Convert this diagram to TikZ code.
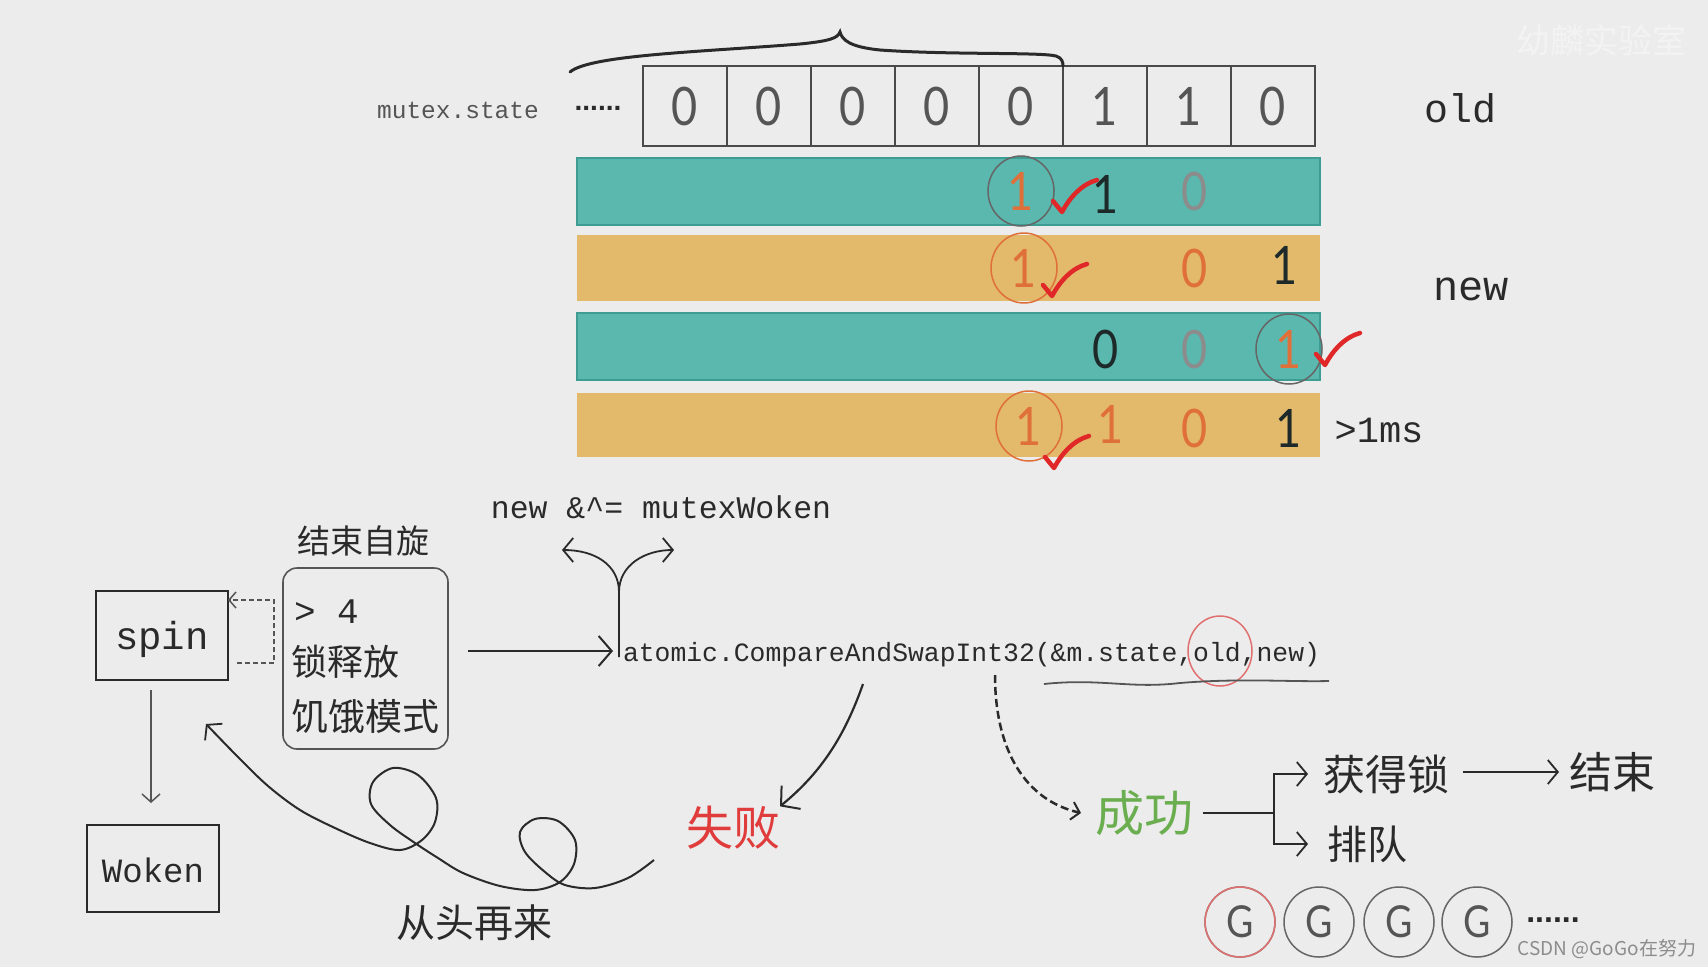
\documentclass[tikz,border=0pt]{standalone}
\usepackage{fontspec}
\setmainfont{Liberation Sans}
\setmonofont{Liberation Mono}
\newfontfamily\cjk{Noto Sans CJK SC}
\newfontfamily\dig[FakeStretch=0.85]{Lato}
\usetikzlibrary{arrows.meta,shapes.geometric}
\newcommand\fz[1]{\fontsize{#1}{#1}\selectfont}
\definecolor{bg}{HTML}{ECECEC}
\definecolor{wm}{HTML}{F3F3F3}
\definecolor{ink}{HTML}{2A2A2A}
\definecolor{cellline}{HTML}{4A4A4A}
\definecolor{tealbar}{HTML}{5BB8AF}
\definecolor{tealedge}{HTML}{3E9D93}
\definecolor{goldbar}{HTML}{E3B96B}
\definecolor{orng}{HTML}{E0703A}
\definecolor{graydig}{HTML}{8C8C8C}
\definecolor{darkdig}{HTML}{1E2A2A}
\definecolor{ringgray}{HTML}{666666}
\definecolor{chkred}{HTML}{E02828}
\definecolor{okgreen}{HTML}{6AAE4F}
\definecolor{failred}{HTML}{E03C3C}
\definecolor{softred}{HTML}{E07070}
\definecolor{midgray}{HTML}{555555}
\begin{document}
\begin{tikzpicture}[x=1pt,y=-1pt,
  every node/.style={inner sep=0pt,outer sep=0pt},
  cell/.style={draw=cellline,line width=1.3pt,minimum width=84pt,minimum height=80pt,font=\dig\fz{53},text=midgray},
  bit/.style={font=\dig\fz{53},text=#1},
  ring/.style={draw=#1,line width=1.5pt,ellipse,minimum width=66pt,minimum height=70pt},
  tealb/.style={fill=tealbar,draw=tealedge,line width=1.5pt,minimum width=743pt},
  goldb/.style={fill=goldbar,minimum width=743pt},
  mono/.style={font=\ttfamily\fz{#1},text=ink},
  han/.style={font=\cjk\fz{#1},text=ink},
  chev/.style={-{Straight Barb[length=13pt,width=30pt,line width=2pt]}},
  chevs/.style={-{Straight Barb[length=10pt,width=24pt,line width=1.8pt]}},
  plain/.style={draw=ink,line width=2pt},
  pics/chk/.style={code={\draw[draw=chkred,line width=4.5pt,line cap=round,line join=round]
      (-9,-11) -- (0,0) .. controls (8,-15) and (20,-28) .. (35,-32);}}
]
\fill[bg] (0,0) rectangle (1708,967);
\useasboundingbox (0,0) rectangle (1708,967);

% watermarks
\node[font=\cjk\fz{34},text=wm] (wmk) at (1601,40) {幼麟实验室};
\node[font=\cjk\fz{19},text=graydig,anchor=east] (csdn) at (1696,949) {CSDN @GoGo在努力};

% top register
\node[mono=24.5,text=midgray,anchor=base] (mstate) at (458,118) {mutex.state};
\node[font=\bfseries\fz{28},text=ink] (dots1) at (598,108) {......};
\foreach \i/\d in {0/0,1/0,2/0,3/0,4/0,5/1,6/1,7/0}
  \node[cell] (c\i) at ({685+84*\i},106) {\d};
\draw[ink,line width=3pt,line cap=round] (570,72) .. controls (590,55) and (700,52) .. (800,44)
  .. controls (830,41) and (838,38) .. (840,32) .. controls (842,40) and (850,47) .. (880,50)
  .. controls (950,55) and (1040,52) .. (1056,56) .. controls (1062,58) and (1063,62) .. (1063,66);
\node[mono=40,anchor=base] (old) at (1460,122) {old};
\node[mono=42,anchor=base] (new) at (1471,300) {new};
\node[mono=37,anchor=base] (ms) at (1379,442) {>1ms};

% bars
\node[tealb,minimum height=67pt] (b1) at (948.5,191.5) {};
\node[goldb,minimum height=66pt] (b2) at (948.5,268) {};
\node[tealb,minimum height=67pt] (b3) at (948.5,346.5) {};
\node[goldb,minimum height=64pt] (b4) at (948.5,425) {};

% bar 1
\node[bit=orng] (b1a) at (1021,191) {1};
\node[ring=ringgray] (r1) at (1021,191) {};
\node[bit=darkdig] (b1b) at (1106,194) {1};
\node[bit=graydig] (b1c) at (1195,191) {0};
\pic at (1062,212) {chk};
% bar 2
\node[bit=orng] (b2a) at (1024,268) {1};
\node[ring=orng] (r2) at (1024,268) {};
\node[bit=orng] (b2c) at (1195,268) {0};
\node[bit=darkdig] (b2d) at (1285,265) {1};
\pic at (1052,296) {chk};
% bar 3
\node[bit=darkdig] (b3b) at (1106,349) {0};
\node[bit=graydig] (b3c) at (1195,349) {0};
\node[bit=orng] (b3d) at (1289,349) {1};
\node[ring=ringgray] (r3) at (1289,349) {};
\pic at (1325,365) {chk};
% bar 4
\node[bit=orng] (b4a) at (1029,426) {1};
\node[ring=orng] (r4) at (1029,426) {};
\node[bit=orng] (b4b) at (1111,424) {1};
\node[bit=orng] (b4c) at (1195,428) {0};
\node[bit=darkdig] (b4d) at (1289,428) {1};
\pic at (1054,468) {chk};

% spin / woken
\node[plain,minimum width=132pt,minimum height=89pt] (spin) at (162,635.5) {};
\node[mono=39,anchor=base] (spint) at (162,649) {spin};
\node[plain,minimum width=132pt,minimum height=87pt] (woken) at (153,868.5) {};
\node[mono=34,anchor=base] (wokent) at (153,882) {Woken};
\draw[midgray,line width=1.5pt,-{Straight Barb[length=8pt,width=18pt,line width=1.5pt]},shorten <=10pt,shorten >=22pt]
  (spin.south -| 151,0) -- (woken.north -| 151,0);

% condition box
\node[draw=midgray,line width=1.6pt,rounded corners=14pt,minimum width=165pt,minimum height=181pt] (cond) at (365.5,658.5) {};
\node[han=33] (endspin) at (363,541) {结束自旋};
\node[mono=36,anchor=west] (gt) at (294,612) {> 4};
\node[han=36,anchor=west] (rel) at (291,662) {锁释放};
\node[han=37,anchor=west] (starve) at (291,716) {饥饿模式};
\coordinate (d1) at (237,663);
\coordinate (d2) at (274,600);
\draw[midgray,line width=1.6pt,dash pattern=on 5pt off 3pt,-{Straight Barb[length=7pt,width=16pt,line width=1.5pt]}]
  (d1) -| (d2) -- (spin.east |- d2);

% CAS
\node[mono=26.4,anchor=base west] (cas) at (623,661) {atomic.CompareAndSwapInt32(\&m.state,old,new)};
\node[draw=softred,line width=1.5pt,ellipse,minimum width=64pt,minimum height=70pt] (oldring) at (1220,651) {};
\draw[midgray,line width=1.8pt] (1044,684) .. controls (1100,678) and (1130,689) .. (1180,683) .. controls (1240,678) and (1290,682) .. (1329,681);
\draw[plain,chev,shorten <=20pt,shorten >=10pt] (cond.east |- 0,651) -- (cas.west |- 0,651);

% fork
\node[mono=31.5,anchor=base] (mw) at (661,518) {new \&\^{}= mutexWoken};
\coordinate (stemb) at (619,657);
\coordinate (stemt) at (619,592);
\coordinate (fl) at (562,550);
\coordinate (fr) at (674,550);
\draw[plain,line width=1.8pt,chevs] (stemb) -- (stemt) .. controls (619,565) and (595,550) .. (fl);
\draw[plain,line width=1.8pt,chevs] (stemt) .. controls (619,565) and (645,550) .. (fr);

% fail
\node[font=\cjk\fz{47},text=failred] (fail) at (733,828) {失败};
\coordinate (fs) at (863,684);
\draw[plain,line width=2.2pt,chev] (fs) .. controls (845,735) and (822,772) .. (fail.north east);
\node[han=39] (again) at (474,923) {从头再来};
\draw[plain,line width=2pt,chevs] plot[smooth,tension=0.55] coordinates {
  (654,860) (628,878) (595,888) (565,885) (545,872) (525,852) (520,832) (535,819) (558,821) (575,840)
  (574,864) (560,882) (535,890) (500,886) (463,873) (438,858) (415,843) (390,825) (371,804)
  (373,782) (393,768) (418,775) (436,798) (435,822) (422,840) (400,850) (370,843) (335,828)
  (300,810) (268,786) (238,757) (206,724)};

% success
\node[font=\cjk\fz{49},text=okgreen] (succ) at (1144,813) {成功};
\coordinate (ds) at (995,675);
\draw[ink,line width=2.5pt,dash pattern=on 8pt off 4pt,-{Straight Barb[length=8pt,width=18pt,line width=2pt]}]
  (ds) .. controls (995,750) and (1025,800) .. ([xshift=-14pt]succ.west);
\node[han=42] (lock) at (1386,774) {获得锁};
\node[han=43] (fin) at (1612,772) {结束};
\node[han=40] (queue) at (1367,844) {排队};
\coordinate (brk) at (1274,813);
\draw[plain] ([xshift=10pt]succ.east) -- (brk);
\draw[plain,chevs,shorten >=15pt] (brk) |- (lock.west);
\draw[plain,chevs,shorten >=19pt] (brk) |- (queue.west);
\draw[plain,chevs,shorten <=14pt,shorten >=10pt] (lock.east |- fin.west) -- (fin.west);

% goroutines
\foreach \i/\x in {1/1240,2/1319,3/1399,4/1477}
  \node[draw=ringgray,line width=1.5pt,circle,minimum size=70pt,font=\dig\fz{44},text=midgray] (g\i) at (\x,922) {G};
\node[draw=softred,line width=1.5pt,circle,minimum size=70pt] (g1r) at (g1) {};
\node[font=\bfseries\fz{32},text=ink] (dots2) at (1553,920) {......};
\end{tikzpicture}
\end{document}
